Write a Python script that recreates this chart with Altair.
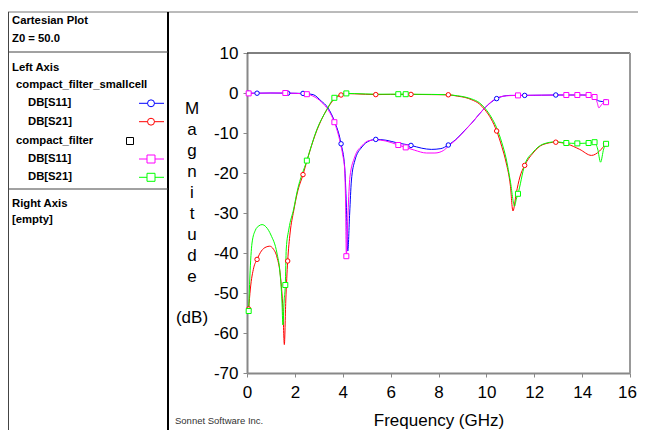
import altair as alt
import pandas as pd

# ---------------- data ----------------
# compact_filter_smallcell DB[S11]  (blue, circles)
s11_small_f = [0.07, 0.42, 1.0, 1.7, 2.34, 2.76, 3.1, 3.38, 3.65, 3.93, 4.08, 4.15, 4.21, 4.29, 4.36, 4.5, 4.8, 5.1, 5.38, 5.8, 6.3, 6.85, 7.3, 7.7, 8.1, 8.41, 8.8, 9.1, 9.39, 9.7, 9.94, 10.2, 10.43, 10.7, 11.0, 11.6, 12.3, 12.9, 13.5, 14.0, 14.3, 14.5, 14.7, 14.98]
s11_small_db = [-0.05, -0.05, 0.0, -0.05, -0.1, -0.4, -2.0, -3.7, -7.0, -12.7, -18.5, -28.0, -39.5, -30.0, -22.0, -17.0, -13.5, -12.0, -11.6, -11.8, -12.5, -13.1, -13.8, -14.1, -13.9, -13.0, -11.2, -9.3, -7.5, -5.3, -3.7, -2.3, -1.4, -0.8, -0.6, -0.6, -0.55, -0.5, -0.5, -0.5, -0.6, -1.0, -2.0, -2.2]
s11_small_mk_f = [0.07, 0.42, 1.7, 2.34, 3.93, 5.38, 6.85, 8.41, 10.43, 11.6, 12.9, 14.98]
s11_small_mk_db = [-0.05, -0.05, -0.05, -0.1, -12.7, -11.6, -13.1, -13.0, -1.4, -0.6, -0.5, -2.2]

# compact_filter_smallcell DB[S21]  (red, circles)
s21_small_f = [0.07, 0.14, 0.28, 0.42, 0.6, 0.8, 0.95, 1.1, 1.25, 1.4, 1.5, 1.56, 1.62, 1.7, 1.8, 1.95, 2.1, 2.34, 2.6, 2.92, 3.1, 3.34, 3.6, 3.93, 4.15, 4.5, 5.38, 6.0, 6.85, 7.7, 8.41, 8.8, 9.1, 9.39, 9.7, 9.94, 10.2, 10.43, 10.64, 10.83, 11.0, 11.11, 11.25, 11.4, 11.6, 11.95, 12.36, 12.9, 13.4, 13.9, 14.39, 14.73, 14.98]
s21_small_db = [-54.0, -49.0, -43.7, -41.6, -39.5, -38.5, -38.3, -39.0, -41.0, -46.0, -54.0, -62.9, -52.0, -42.0, -35.0, -29.5, -25.0, -20.4, -15.0, -9.3, -6.8, -4.1, -1.8, -0.5, -0.15, -0.2, -0.4, -0.35, -0.35, -0.4, -0.45, -0.8, -1.1, -1.7, -2.7, -4.2, -6.5, -9.5, -13.3, -17.5, -23.0, -29.5, -25.0, -21.0, -18.1, -15.0, -12.9, -12.3, -12.8, -14.1, -15.6, -14.5, -12.7]
s21_small_mk_f = [0.07, 0.42, 1.7, 2.34, 3.93, 5.38, 6.85, 8.41, 10.43, 11.6, 12.9, 14.98]
s21_small_mk_db = [-54.0, -41.6, -42.0, -20.4, -0.5, -0.4, -0.35, -0.45, -9.5, -18.1, -12.3, -12.7]

# compact_filter DB[S11]  (magenta, squares)
s11_cf_f = [0.07, 1.0, 1.6, 2.5, 2.8, 3.1, 3.4, 3.65, 3.9, 4.0, 4.08, 4.12, 4.15, 4.22, 4.3, 4.5, 4.8, 5.1, 5.38, 5.8, 6.32, 6.63, 7.0, 7.5, 7.85, 8.2, 8.41, 8.8, 9.1, 9.39, 9.7, 9.94, 10.2, 10.43, 10.7, 11.0, 11.32, 12.0, 12.9, 13.34, 13.8, 14.27, 14.52, 14.62, 14.7, 14.8, 14.9, 15.0]
s11_cf_db = [-0.1, 0.0, 0.0, -0.3, -0.9, -2.2, -4.3, -7.3, -12.5, -15.5, -19.0, -28.0, -40.8, -30.0, -21.0, -16.0, -13.2, -11.9, -11.7, -12.0, -13.0, -13.6, -14.3, -15.0, -15.0, -14.4, -13.3, -11.3, -9.4, -7.5, -5.3, -3.7, -2.2, -1.3, -0.8, -0.65, -0.6, -0.55, -0.5, -0.5, -0.5, -0.5, -1.0, -2.2, -3.7, -3.0, -2.4, -2.3]
s11_cf_mk_f = [0.07, 1.6, 2.5, 3.65, 4.15, 6.32, 6.63, 11.32, 13.34, 13.8, 14.27, 14.52, 15.0]
s11_cf_mk_db = [-0.1, 0.0, -0.3, -7.3, -40.8, -13.0, -13.6, -0.6, -0.5, -0.5, -0.5, -1.0, -2.3]

# compact_filter DB[S21]  (green, squares)
s21_cf_f = [0.07, 0.12, 0.21, 0.35, 0.5, 0.63, 0.8, 1.0, 1.25, 1.38, 1.46, 1.5, 1.55, 1.6, 1.64, 1.75, 1.95, 2.1, 2.5, 2.92, 3.34, 3.65, 4.15, 4.5, 5.38, 6.32, 6.63, 7.7, 8.41, 8.8, 9.1, 9.39, 9.7, 9.94, 10.2, 10.43, 10.64, 10.83, 11.0, 11.18, 11.25, 11.32, 11.6, 11.95, 12.36, 12.9, 13.34, 13.8, 14.27, 14.52, 14.65, 14.77, 14.9, 15.0]
s21_cf_db = [-54.5, -46.0, -37.5, -34.3, -33.2, -32.9, -33.5, -35.5, -40.0, -45.0, -52.0, -58.0, -52.0, -48.0, -39.0, -34.0, -29.0, -24.5, -16.9, -9.1, -4.1, -1.2, -0.1, -0.15, -0.3, -0.3, -0.3, -0.35, -0.45, -0.7, -1.0, -1.5, -2.4, -3.8, -6.0, -8.7, -12.3, -16.5, -22.0, -28.3, -26.5, -25.2, -18.0, -14.8, -12.8, -12.2, -12.5, -12.6, -12.5, -12.3, -14.0, -17.3, -14.0, -12.7]
s21_cf_mk_f = [0.07, 1.6, 2.5, 3.65, 4.15, 6.32, 6.63, 11.32, 13.34, 13.8, 14.27, 14.52, 15.0]
s21_cf_mk_db = [-54.5, -48.0, -16.9, -1.2, -0.1, -0.3, -0.3, -25.2, -12.5, -12.6, -12.5, -12.3, -12.7]

x_ticks = [0, 2, 4, 6, 8, 10, 12, 14, 16]
y_ticks = [10, 0, -10, -20, -30, -40, -50, -60, -70]

series = [
    ("DB[S11] smallcell", s11_small_f, s11_small_db, s11_small_mk_f, s11_small_mk_db, "#0000ff", "circle"),
    ("DB[S21] smallcell", s21_small_f, s21_small_db, s21_small_mk_f, s21_small_mk_db, "#ff0000", "circle"),
    ("DB[S11] compact", s11_cf_f, s11_cf_db, s11_cf_mk_f, s11_cf_mk_db, "#ff00ff", "square"),
    ("DB[S21] compact", s21_cf_f, s21_cf_db, s21_cf_mk_f, s21_cf_mk_db, "#00ff00", "square"),
]

legend_lines = [
    ("Cartesian Plot", 0),
    ("Z0 = 50.0", 0),
    ("Left Axis", 0),
    ("compact_filter_smallcell", 1),
    ("DB[S11]", 2),
    ("DB[S21]", 2),
    ("compact_filter", 1),
    ("DB[S11]", 2),
    ("DB[S21]", 2),
    ("Right Axis", 0),
    ("[empty]", 0),
]
y_title_letters = ["M", "a", "g", "n", "i", "t", "u", "d", "e"]
y_title_unit = "(dB)"

# ---------------- layout constants ----------------
W, H = 383, 320
FONT = "Liberation Sans"

xscale = alt.Scale(domain=[0, 16], nice=False, zero=False)
yscale = alt.Scale(domain=[-70, 10], nice=False, zero=False)
xaxis = alt.Axis(values=x_ticks, title="Frequency (GHz)", grid=False, labelOverlap=False,
                 labelFlush=False, tickSize=4, labelPadding=7, labelFontSize=17,
                 labelOffset={"condition": {"test": "datum.value === 16", "value": -3}, "value": 0},
                 titleFontSize=17, titleFontWeight="normal", titleY=52,
                 titleBaseline="alphabetic", labelExpr="'' + datum.value")
yaxis = alt.Axis(values=y_ticks, title=None, grid=False, labelOverlap=False,
                 labelFlush=False, tickSize=4, labelPadding=5, labelFontSize=17,
                 labelExpr="'' + datum.value")


def xy():
    return dict(x=alt.X("f:Q", scale=xscale, axis=xaxis),
                y=alt.Y("db:Q", scale=yscale, axis=yaxis))


dummy = pd.DataFrame({"k": [0]})
layers = []


def rule(x1, x2, y1, y2, color, width=1):
    return alt.Chart(dummy).mark_rule(color=color, strokeWidth=width).encode(
        x=alt.value(x1), x2=alt.value(x2), y=alt.value(y1), y2=alt.value(y2))


# curves
for name, f, db, mf, mdb, col, shp in series:
    df = pd.DataFrame({"f": f, "db": db})
    layers.append(alt.Chart(df).mark_line(color=col, strokeWidth=1, interpolate="monotone").encode(**xy()))
for name, f, db, mf, mdb, col, shp in series:
    mdf = pd.DataFrame({"f": mf, "db": mdb})
    sz = 20 if shp == "circle" else 25
    layers.append(alt.Chart(mdf).mark_point(shape=shp, size=sz, filled=False, fill="white",
                                            fillOpacity=1, opacity=1, stroke=col,
                                            strokeWidth=1).encode(**xy()))

# frame: top black, right gray
layers.append(rule(0, W, 0, 0, "#000000", 1))
layers.append(rule(W, W, 0, H, "#999999", 2))

# outer/legend panel borders
layers.append(rule(-239, 391, -41, -41, "#777777", 1))
layers.append(rule(-238.5, -238.5, -41, 380, "#444444", 1))
layers.append(rule(-79, -79, -41, 380, "#000000", 2))
layers.append(rule(-239, -79, -1, -1, "#444444", 1))
layers.append(rule(-239, -79, 136, 136, "#444444", 1))

# legend text
legend_y = [-32.3, -14, 15.3, 32, 50.3, 68.7, 87.5, 106, 124.3, 151, 167]
indent_x = {0: -235, 1: -231, 2: -219}
for (txt, lvl), yy in zip(legend_lines, legend_y):
    layers.append(alt.Chart(dummy).mark_text(font=FONT, fontSize=11.3, fontWeight="bold",
                                             align="left", baseline="middle", color="#000000").encode(
        x=alt.value(indent_x[lvl]), y=alt.value(yy), text=alt.value(txt)))

# legend glyphs
glyph_rows = [50.3, 68.7, 106, 124.3]
for (name, f, db, mf, mdb, col, shp), yy in zip(series, glyph_rows):
    layers.append(rule(-108, -83, yy, yy, col, 1))
    layers.append(alt.Chart(dummy).mark_point(shape=shp, size=48 if shp == "circle" else 64,
                                              filled=False, fill="white", fillOpacity=1, opacity=1,
                                              stroke=col, strokeWidth=1).encode(
        x=alt.value(-96), y=alt.value(yy)))
layers.append(alt.Chart(dummy).mark_point(shape="square", size=49, filled=False, opacity=1,
                                          stroke="#000000", strokeWidth=1).encode(
    x=alt.value(-117), y=alt.value(88)))

# y title (stacked letters, then the unit)
layers.append(alt.Chart(dummy).mark_text(font=FONT, fontSize=17, align="center", baseline="top",
                                         lineHeight=21, color="#000000").encode(
    x=alt.value(-55), y=alt.value(47.5), text=alt.value(y_title_letters)))
layers.append(alt.Chart(dummy).mark_text(font=FONT, fontSize=17, align="center", baseline="middle",
                                         color="#000000").encode(
    x=alt.value(-55), y=alt.value(265), text=alt.value(y_title_unit)))

# footer
layers.append(alt.Chart(dummy).mark_text(font=FONT, fontSize=9.5, align="left", baseline="middle",
                                         color="#333333").encode(
    x=alt.value(-72), y=alt.value(368), text=alt.value("Sonnet Software Inc.")))

chart = alt.layer(*layers).properties(
    width=W, height=H,
    padding={"left": 239, "top": 45, "right": 8, "bottom": 57},
    autosize=alt.AutoSizeParams(type="none"),
    background="white",
).configure_view(stroke=None).configure_axis(
    labelFont=FONT, titleFont=FONT, labelColor="#000000", titleColor="#000000",
    domainColor="#888888", domainWidth=2, tickColor="#888888",
)

chart.save("out.html", embed_options={"renderer": "svg", "actions": False})
